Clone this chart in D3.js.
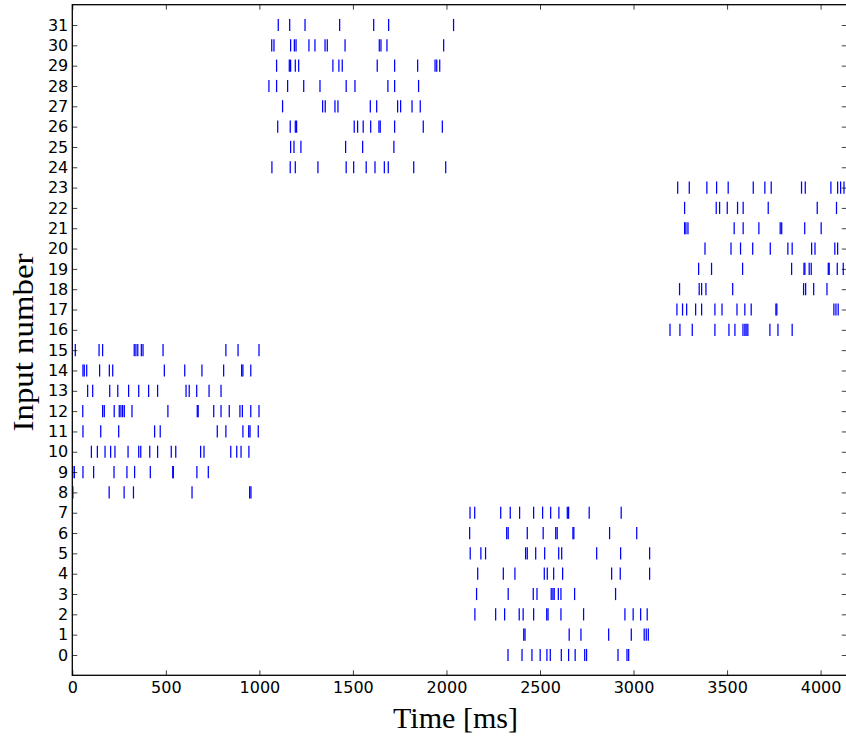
<!DOCTYPE html>
<html>
<head>
<meta charset="utf-8">
<script src="https://cdn.jsdelivr.net/npm/d3@7"></script>
<style>
  html, body { margin: 0; padding: 0; background: #ffffff; }
  svg { display: block; }
</style>
</head>
<body>
<svg id="chart" width="846" height="737"></svg>
<script>
// Spike times (ms) for each input, grouped by the four activity blocks.
const inputs0to7 = [
  [2329, 2404, 2457, 2501, 2537, 2555, 2614, 2653, 2688, 2739, 2749, 2917, 2965, 2974],
  [2413, 2420, 2656, 2719, 2867, 2988, 3057, 3068, 3079],
  [2152, 2263, 2311, 2389, 2410, 2466, 2536, 2543, 2612, 2733, 2954, 2998, 3038, 3073],
  [2161, 2330, 2464, 2484, 2560, 2569, 2576, 2598, 2612, 2685, 2904],
  [2167, 2304, 2366, 2523, 2539, 2573, 2621, 2883, 2929, 3086],
  [2127, 2184, 2209, 2423, 2432, 2477, 2525, 2600, 2616, 2803, 2931, 3086],
  [2124, 2322, 2330, 2432, 2517, 2584, 2592, 2676, 2681, 2872, 3017],
  [2126, 2151, 2290, 2341, 2391, 2466, 2514, 2557, 2601, 2646, 2653, 2763, 2934]
];
const inputs8to15 = [
  [3, 197, 277, 327, 640, 948, 955],
  [2, 11, 57, 114, 223, 292, 333, 417, 537, 540, 666, 727],
  [102, 134, 175, 205, 228, 298, 355, 366, 414, 456, 529, 553, 686, 704, 847, 879, 902, 944],
  [57, 152, 248, 440, 470, 775, 821, 912, 943, 950, 994],
  [56, 162, 171, 224, 251, 260, 269, 278, 319, 511, 668, 673, 756, 795, 839, 896, 909, 954, 998],
  [82, 109, 200, 243, 301, 355, 408, 456, 608, 625, 665, 731, 795],
  [57, 64, 77, 146, 198, 216, 492, 601, 693, 809, 905, 912, 954],
  [16, 143, 162, 331, 340, 350, 369, 378, 485, 821, 886, 998]
];
const inputs16to23 = [
  [3195, 3248, 3314, 3435, 3510, 3542, 3585, 3595, 3602, 3611, 3729, 3772, 3848],
  [3232, 3262, 3284, 3332, 3364, 3435, 3473, 3553, 3595, 3629, 3761, 3766, 4071, 4082, 4094],
  [3246, 3351, 3364, 3387, 3530, 3909, 3920, 3963, 4034],
  [3348, 3417, 3583, 3845, 3911, 3916, 3939, 3950, 4041, 4046, 4089, 4121],
  [3382, 3521, 3572, 3637, 3731, 3825, 3848, 3952, 3970, 4076, 4091],
  [3273, 3280, 3291, 3538, 3586, 3670, 3784, 3792, 3915, 4003],
  [3273, 3442, 3460, 3501, 3556, 3586, 3720, 3982, 4085],
  [3236, 3298, 3392, 3444, 3506, 3640, 3702, 3736, 3898, 3918, 4055, 4091, 4107, 4125]
];
const inputs24to31 = [
  [1067, 1165, 1192, 1313, 1464, 1504, 1571, 1618, 1668, 1689, 1825, 1996],
  [1167, 1185, 1222, 1461, 1552, 1719],
  [1098, 1165, 1192, 1199, 1507, 1525, 1555, 1595, 1639, 1646, 1723, 1876, 1978],
  [1124, 1338, 1352, 1404, 1420, 1593, 1627, 1739, 1755, 1816, 1860],
  [1051, 1092, 1151, 1237, 1324, 1464, 1511, 1687, 1723, 1851],
  [1092, 1160, 1167, 1192, 1210, 1393, 1425, 1443, 1630, 1723, 1846, 1939, 1948, 1964],
  [1066, 1078, 1167, 1187, 1196, 1265, 1297, 1351, 1363, 1458, 1641, 1650, 1682, 1985],
  [1101, 1162, 1244, 1429, 1611, 1691, 2038]
];

const xTickValues = [0, 500, 1000, 1500, 2000, 2500, 3000, 3500, 4000];
const yTickValues = [0, 1, 2, 3, 4, 5, 6, 7, 8, 9, 10, 11, 12, 13, 14, 15,
                     16, 17, 18, 19, 20, 21, 22, 23, 24, 25, 26, 27, 28, 29, 30, 31];
const xDomain = [0, 4140];
const yDomain = [-1, 32];
const xLabel = "Time [ms]";
const yLabel = "Input number";

// Flatten the spike trains into (input, time) points.
const trains = [].concat(inputs0to7, inputs8to15, inputs16to23, inputs24to31);
const spikes = [];
trains.forEach((times, input) => times.forEach(t => spikes.push({ input, t })));

const plot = { left: 72.3, right: 846.8, top: 4.7, bottom: 675.3 };

const svg = d3.select("#chart");

const x = d3.scaleLinear().domain(xDomain).range([plot.left, plot.right]);
const y = d3.scaleLinear().domain(yDomain).range([plot.bottom, plot.top]);

const tickFont = "'DejaVu Sans', sans-serif";
const tickLen = 5;

// Raster marks: one short vertical line per spike.
const markHalf = 0.3; // half height of a spike mark, in input units
svg.append("g")
  .attr("class", "spikes")
  .selectAll("line")
  .data(spikes)
  .join("line")
  .attr("x1", d => x(d.t))
  .attr("x2", d => x(d.t))
  .attr("y1", d => y(d.input + markHalf))
  .attr("y2", d => y(d.input - markHalf))
  .attr("stroke", "#0000ff")
  .attr("stroke-width", 1.25);

function styleAxis(g) {
  g.select(".domain").remove();
  g.selectAll(".tick line").attr("stroke", "#000").attr("stroke-width", 0.75);
  g.selectAll(".tick text")
    .attr("fill", "#000")
    .style("font-family", tickFont)
    .style("font-size", "16px");
}

// Bottom axis with inward ticks
svg.append("g")
  .attr("transform", `translate(0,${plot.bottom})`)
  .call(d3.axisBottom(x).tickValues(xTickValues).tickFormat(d3.format("d"))
    .tickSizeInner(-tickLen).tickSizeOuter(0).tickPadding(6.8))
  .call(styleAxis);

// Top axis: ticks only
svg.append("g")
  .attr("transform", `translate(0,${plot.top})`)
  .call(d3.axisTop(x).tickValues(xTickValues).tickFormat("")
    .tickSizeInner(-tickLen).tickSizeOuter(0))
  .call(styleAxis);

// Left axis with labels for every input
svg.append("g")
  .attr("transform", `translate(${plot.left},0)`)
  .call(d3.axisLeft(y).tickValues(yTickValues).tickFormat(d3.format("d"))
    .tickSizeInner(-tickLen).tickSizeOuter(0).tickPadding(4))
  .call(styleAxis);

// Right axis: ticks only
svg.append("g")
  .attr("transform", `translate(${plot.right},0)`)
  .call(d3.axisRight(y).tickValues(yTickValues).tickFormat("")
    .tickSizeInner(-tickLen).tickSizeOuter(0))
  .call(styleAxis);

// Frame around the plotting area
svg.append("rect")
  .attr("x", plot.left)
  .attr("y", plot.top)
  .attr("width", plot.right - plot.left)
  .attr("height", plot.bottom - plot.top)
  .attr("fill", "none")
  .attr("stroke", "#000")
  .attr("stroke-width", 1.3);

// Axis titles
svg.append("text")
  .attr("x", 455.5)
  .attr("y", 728.3)
  .attr("text-anchor", "middle")
  .attr("textLength", 125)
  .attr("lengthAdjust", "spacingAndGlyphs")
  .style("font-family", "'Liberation Serif', serif")
  .style("font-size", "30px")
  .attr("fill", "#000")
  .text(xLabel);

svg.append("text")
  .attr("transform", "translate(33.3,342.5) rotate(-90)")
  .attr("text-anchor", "middle")
  .attr("textLength", 178)
  .attr("lengthAdjust", "spacingAndGlyphs")
  .style("font-family", "'Liberation Serif', serif")
  .style("font-size", "30px")
  .attr("fill", "#000")
  .text(yLabel);
</script>
</body>
</html>
